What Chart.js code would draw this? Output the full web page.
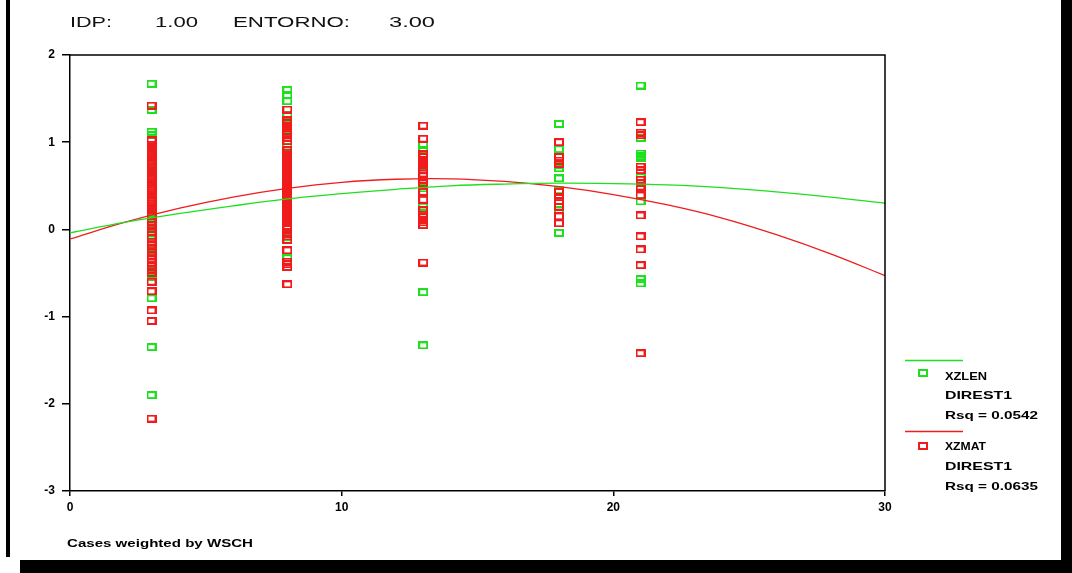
<!DOCTYPE html>
<html>
<head>
<meta charset="utf-8">
<script src="https://cdn.jsdelivr.net/npm/chart.js@4.4.1/dist/chart.umd.min.js"></script>
<style>
  html, body { margin: 0; padding: 0; background: #ffffff; }
  #wrap { width: 1072px; height: 573px; }
</style>
</head>
<body>
<div id="wrap"><canvas id="chart" width="1072" height="573"></canvas></div>
<script>
// Weighted cases: x = distance class, one column of z-scores per class
const xzlen3  = [1.67, 1.37, 1.12, 1.08, 0.93, 0.90, 0.83, 0.72, 0.70, 0.65, 0.20, 0.18, 0.13, 0.09, 0.00, -0.04, -0.07, -0.23, -0.27, -0.31, -0.48, -0.52, -0.55, -0.79, -1.35, -1.90];
const xzlen8  = [1.60, 1.54, 1.47, 1.31, 1.21, 1.15, 0.95, 0.88, 0.66, 0.57, 0.53, 0.35, 0.27, 0.19, 0.15, -0.05, -0.09, -0.33];
const xzlen13 = [0.97, 0.91, 0.83, 0.76, 0.72, 0.47, 0.26, -0.72, -1.33];
const xzlen18 = [1.21, 0.92, 0.74, 0.70, 0.585, 0.45, 0.22, -0.04];
const xzlen21 = [1.65, 1.05, 0.87, 0.84, 0.82, 0.60, 0.47, 0.32, -0.57, -0.62];

const xzmat3  = [1.42, 1.02, 0.97, 0.945, 0.92, 0.895, 0.87, 0.845, 0.82, 0.795, 0.77, 0.745, 0.72, 0.695, 0.67, 0.645, 0.62, 0.595, 0.57, 0.545, 0.52, 0.495, 0.47, 0.445, 0.42, 0.395, 0.37, 0.345, 0.32, 0.295, 0.27, 0.245, 0.22, 0.15, 0.09, 0.05, 0.01, -0.03, -0.10, -0.14, -0.18, -0.22, -0.26, -0.30, -0.34, -0.38, -0.42, -0.46, -0.50, -0.60, -0.71, -0.93, -1.05, -2.17];
const xzmat8  = [1.375, 1.25, 1.22, 1.19, 1.16, 1.13, 1.10, 1.05, 1.01, 0.91, 0.88, 0.85, 0.82, 0.79, 0.76, 0.73, 0.70, 0.67, 0.64, 0.61, 0.58, 0.55, 0.52, 0.49, 0.46, 0.43, 0.40, 0.37, 0.34, 0.31, 0.28, 0.25, 0.22, 0.19, 0.16, 0.13, 0.10, 0.07, 0.04, 0.01, -0.04, -0.08, -0.12, -0.24, -0.37, -0.40, -0.43, -0.63];
const xzmat13 = [1.19, 1.04, 0.86, 0.83, 0.80, 0.77, 0.74, 0.71, 0.68, 0.64, 0.61, 0.57, 0.53, 0.43, 0.34, 0.22, 0.17, 0.14, 0.11, 0.08, 0.05, -0.38];
const xzmat18 = [1.00, 0.83, 0.79, 0.75, 0.43, 0.37, 0.32, 0.26, 0.15, 0.07];
const xzmat21 = [1.23, 1.11, 1.08, 0.72, 0.68, 0.57, 0.53, 0.49, 0.39, 0.16, -0.08, -0.23, -0.41, -1.42];

// Quadratic fit curves (DIREST1), sampled along the x axis
const fitX      = [0, 2, 4, 6, 8, 10, 12, 14, 16, 18, 20, 22, 24, 26, 28, 30];
const xzlenFit  = [-0.04, 0.08, 0.18, 0.27, 0.35, 0.41, 0.46, 0.50, 0.52, 0.53, 0.525, 0.51, 0.48, 0.43, 0.37, 0.30];
const xzmatFit  = [-0.11, 0.08, 0.24, 0.37, 0.47, 0.54, 0.575, 0.58, 0.55, 0.49, 0.40, 0.28, 0.13, -0.06, -0.28, -0.53];

const xTicks = [0, 10, 20, 30];
const yTicks = [-3, -2, -1, 0, 1, 2];

const GREEN = '#1ee01e';
const RED = '#f01c1c';

function column(x, values) { return values.map(v => ({ x: x, y: v })); }
function curve(xs, ys) { return xs.map((x, i) => ({ x: x, y: ys[i] })); }

// hollow rectangular marker used for every case
function marker(color) {
  const c = document.createElement('canvas');
  c.width = 10; c.height = 8;
  const g = c.getContext('2d');
  g.strokeStyle = color;
  g.lineWidth = 2;
  g.strokeRect(1, 1, 8, 6);
  return c;
}

const xzlenPoints = [].concat(column(3, xzlen3), column(8, xzlen8), column(13, xzlen13), column(18, xzlen18), column(21, xzlen21));
const xzmatPoints = [].concat(column(3, xzmat3), column(8, xzmat8), column(13, xzmat13), column(18, xzmat18), column(21, xzmat21));

function drawFit(ctx, text, x, y, width, font) {
  ctx.save();
  ctx.font = font;
  ctx.textBaseline = 'middle';
  ctx.textAlign = 'left';
  const w = ctx.measureText(text).width;
  ctx.translate(x, y);
  ctx.scale(width / w, 1);
  ctx.fillText(text, 0, 0);
  ctx.restore();
}

const decorations = {
  id: 'decorations',
  beforeDraw(chart) {
    const ctx = chart.ctx;
    ctx.save();
    ctx.fillStyle = '#ffffff';
    ctx.fillRect(0, 0, chart.width, chart.height);
    ctx.restore();
  },
  afterDraw(chart) {
    const ctx = chart.ctx;
    const a = chart.chartArea;
    ctx.save();
    // plot frame (top and right sides)
    ctx.strokeStyle = '#000000';
    ctx.lineWidth = 1.5;
    ctx.beginPath();
    ctx.moveTo(a.left, a.top);
    ctx.lineTo(a.right, a.top);
    ctx.lineTo(a.right, a.bottom);
    ctx.stroke();

    // window border
    ctx.fillStyle = '#000000';
    ctx.fillRect(6, 0, 4, 557);
    ctx.fillRect(20, 560, 1052, 13);
    ctx.fillRect(1061, 0, 11, 573);

    // header
    ctx.fillStyle = '#111111';
    const hf = '14px "Liberation Sans", Arial, sans-serif';
    drawFit(ctx, 'IDP:', 70, 23, 42, hf);
    drawFit(ctx, '1.00', 155, 23, 43, hf);
    drawFit(ctx, 'ENTORNO:', 233, 23, 117, hf);
    drawFit(ctx, '3.00', 389, 23, 46, hf);

    // legend
    const lf = 'bold 10px "Liberation Sans", Arial, sans-serif';
    ctx.lineWidth = 1.3;
    ctx.strokeStyle = GREEN;
    ctx.beginPath(); ctx.moveTo(905, 360.5); ctx.lineTo(963, 360.5); ctx.stroke();
    ctx.drawImage(marker(GREEN), 918, 369);
    ctx.fillStyle = '#000000';
    drawFit(ctx, 'XZLEN', 945, 377, 42, lf);
    drawFit(ctx, 'DIREST1', 945, 396.5, 67, lf);
    drawFit(ctx, 'Rsq = 0.0542', 945, 416, 93, lf);
    ctx.strokeStyle = RED;
    ctx.beginPath(); ctx.moveTo(905, 431.5); ctx.lineTo(963, 431.5); ctx.stroke();
    ctx.drawImage(marker(RED), 918, 442);
    drawFit(ctx, 'XZMAT', 945, 447, 41, lf);
    drawFit(ctx, 'DIREST1', 945, 467, 67, lf);
    drawFit(ctx, 'Rsq = 0.0635', 945, 487, 93, lf);

    // footnote
    drawFit(ctx, 'Cases weighted by WSCH', 67, 544, 186, 'bold 10px "Liberation Sans", Arial, sans-serif');
    ctx.restore();
  }
};

const tickFont = { family: '"Liberation Sans", Arial, sans-serif', size: 12, weight: 'bold' };

new Chart(document.getElementById('chart'), {
  data: {
    datasets: [
      { type: 'line', label: 'XZLEN fit', data: curve(fitX, xzlenFit), borderColor: GREEN, borderWidth: 1.3, pointRadius: 0, tension: 0.4, fill: false, order: 1 },
      { type: 'line', label: 'XZMAT fit', data: curve(fitX, xzmatFit), borderColor: RED, borderWidth: 1.3, pointRadius: 0, tension: 0.4, fill: false, order: 2 },
      { type: 'scatter', label: 'XZMAT', data: xzmatPoints, pointStyle: marker(RED), order: 3 },
      { type: 'scatter', label: 'XZLEN', data: xzlenPoints, pointStyle: marker(GREEN), order: 4 }
    ]
  },
  options: {
    responsive: false,
    animation: false,
    devicePixelRatio: 1,
    layout: { padding: { left: 0, top: 55, right: 187, bottom: 52 } },
    plugins: { legend: { display: false }, tooltip: { enabled: false } },
    scales: {
      x: {
        type: 'linear', min: 0, max: 30,
        afterBuildTicks(scale) { scale.ticks = xTicks.map(v => ({ value: v })); },
        afterFit(scale) { scale.height = 30; },
        ticks: { color: '#000000', font: tickFont, padding: 4, maxRotation: 0 },
        grid: { drawOnChartArea: false, drawTicks: true, tickLength: 5, color: '#000000', lineWidth: 1.5 },
        border: { color: '#000000', width: 1.5 }
      },
      y: {
        type: 'linear', min: -3, max: 2,
        afterBuildTicks(scale) { scale.ticks = yTicks.map(v => ({ value: v })); },
        afterFit(scale) { scale.width = 70; },
        ticks: { color: '#000000', font: tickFont, padding: 7 },
        grid: { drawOnChartArea: false, drawTicks: true, tickLength: 8, color: '#000000', lineWidth: 1.5 },
        border: { color: '#000000', width: 1.5 }
      }
    }
  },
  plugins: [decorations]
});
</script>
</body>
</html>
